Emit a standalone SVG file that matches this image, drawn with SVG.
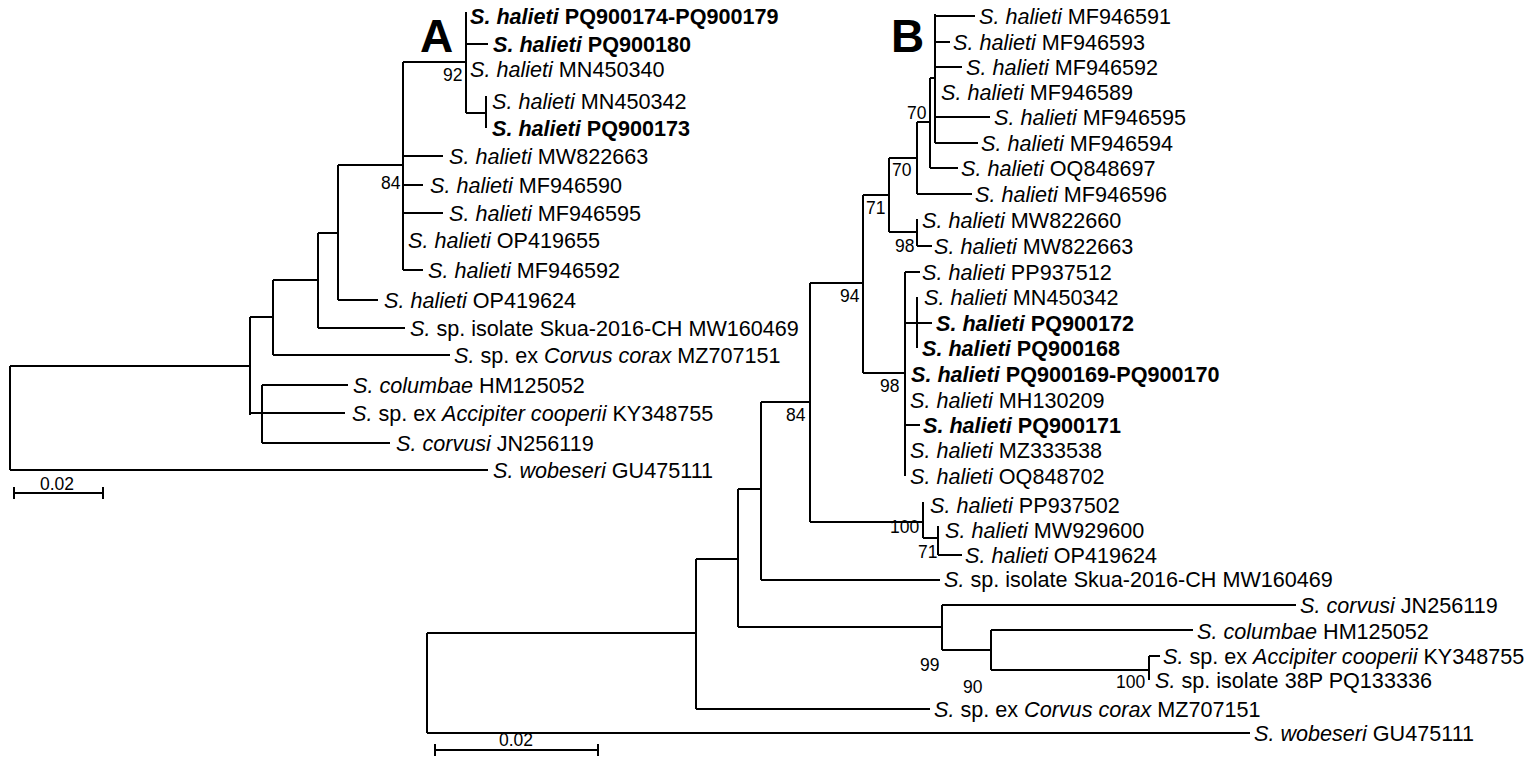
<svg xmlns="http://www.w3.org/2000/svg" width="1535" height="768" viewBox="0 0 1535 768">
<style>
.b{stroke:#000;stroke-width:2;fill:none}
text{font-family:"Liberation Sans",Arial,sans-serif;fill:#000}
.a{font-size:21.6px}
.t{font-size:21.6px}
.n{font-size:17.5px}
.i{font-style:italic}
.bd{font-weight:bold}
.big{font-size:46px;font-weight:bold}
</style>
<rect width="1535" height="768" fill="#fff"/>
<g id="connectors">
<path class="b" d="M466 12V113M466 44H488M466 113H486M486 96V128M403 62H466M403 62V270M403 156H443M403 185H423M403 213H443M403 270H423M338 165H403M338 165V300M338 300H378M318 233H338M318 233V328M318 328H405M273 280H318M273 280V355M273 355H450M250 317H273M250 317V415M262 385V443M262 385H348M250 413H345M262 443H390M10 366H250M10 366V470M10 470H488"/>
<path class="b" d="M14 493H103M14 487V499M103 487V499"/>
<path class="b" d="M935 14V143M935 16H975M935 42H950M935 67H962M935 117H990M935 143H978M930 78H935M930 78V168M930 168H958M917 122H930M917 122V194M917 194H972M889 158H917M889 158V232M889 232H917M917 219V246M917 246H932M863 195H889M863 195V373M863 373H905M905 272V476M905 272H920M917 297V348M905 323H932M905 425H920M810 283H863M810 283V522M810 522H923M923 502V538M923 538H938M938 526V555M938 555H962M761 402H810M761 402V580M761 580H940M738 489H761M738 489V627M738 627H942M942 605V650M942 605H1296M942 650H991M991 630V670M991 630H1193M991 670H1149M1149 656V680M1149 656H1160M696 559H738M696 559V709M696 709H930M427 633H696M427 633V733M427 733H1250"/>
<path class="b" d="M435 750H598M435 744V756M598 744V756"/>
</g>
<g id="treeA">
<text class="big" x="420" y="52">A</text>
<text class="a bd" x="470" y="24"><tspan class="i">S. halieti</tspan> PQ900174-PQ900179</text>
<text class="a bd" x="493" y="52"><tspan class="i">S. halieti</tspan> PQ900180</text>
<text class="a" x="470" y="77"><tspan class="i">S. halieti</tspan> MN450340</text>
<text class="a" x="492" y="109"><tspan class="i">S. halieti</tspan> MN450342</text>
<text class="a bd" x="492" y="136"><tspan class="i">S. halieti</tspan> PQ900173</text>
<text class="a" x="449" y="164"><tspan class="i">S. halieti</tspan> MW822663</text>
<text class="a" x="430" y="193"><tspan class="i">S. halieti</tspan> MF946590</text>
<text class="a" x="449" y="221"><tspan class="i">S. halieti</tspan> MF946595</text>
<text class="a" x="408" y="248"><tspan class="i">S. halieti</tspan> OP419655</text>
<text class="a" x="428" y="278"><tspan class="i">S. halieti</tspan> MF946592</text>
<text class="a" x="384" y="308"><tspan class="i">S. halieti</tspan> OP419624</text>
<text class="a" x="410" y="336"><tspan class="i">S.</tspan> sp. isolate Skua-2016-CH MW160469</text>
<text class="a" x="454" y="363"><tspan class="i">S.</tspan> sp. ex <tspan class="i">Corvus corax</tspan> MZ707151</text>
<text class="a" x="353" y="393"><tspan class="i">S. columbae</tspan> HM125052</text>
<text class="a" x="352" y="421"><tspan class="i">S.</tspan> sp. ex <tspan class="i">Accipiter cooperii</tspan> KY348755</text>
<text class="a" x="396" y="451"><tspan class="i">S. corvusi</tspan> JN256119</text>
<text class="a" x="493" y="478"><tspan class="i">S. wobeseri</tspan> GU475111</text>
<text class="n" x="443" y="81">92</text>
<text class="n" x="381" y="189">84</text>
<text class="n" x="40" y="490">0.02</text>
</g>
<g id="treeB">
<text class="big" x="891" y="52">B</text>
<text class="t" x="979" y="24"><tspan class="i">S. halieti</tspan> MF946591</text>
<text class="t" x="953" y="50"><tspan class="i">S. halieti</tspan> MF946593</text>
<text class="t" x="966" y="75"><tspan class="i">S. halieti</tspan> MF946592</text>
<text class="t" x="941" y="100"><tspan class="i">S. halieti</tspan> MF946589</text>
<text class="t" x="994" y="125"><tspan class="i">S. halieti</tspan> MF946595</text>
<text class="t" x="981" y="151"><tspan class="i">S. halieti</tspan> MF946594</text>
<text class="t" x="961" y="176"><tspan class="i">S. halieti</tspan> OQ848697</text>
<text class="t" x="975" y="202"><tspan class="i">S. halieti</tspan> MF946596</text>
<text class="t" x="922" y="228"><tspan class="i">S. halieti</tspan> MW822660</text>
<text class="t" x="934" y="254"><tspan class="i">S. halieti</tspan> MW822663</text>
<text class="t" x="922" y="280"><tspan class="i">S. halieti</tspan> PP937512</text>
<text class="t" x="924" y="305"><tspan class="i">S. halieti</tspan> MN450342</text>
<text class="t bd" x="936" y="331"><tspan class="i">S. halieti</tspan> PQ900172</text>
<text class="t bd" x="922" y="356"><tspan class="i">S. halieti</tspan> PQ900168</text>
<text class="t bd" x="911" y="382"><tspan class="i">S. halieti</tspan> PQ900169-PQ900170</text>
<text class="t" x="910" y="408"><tspan class="i">S. halieti</tspan> MH130209</text>
<text class="t bd" x="923" y="433"><tspan class="i">S. halieti</tspan> PQ900171</text>
<text class="t" x="910" y="458"><tspan class="i">S. halieti</tspan> MZ333538</text>
<text class="t" x="910" y="484"><tspan class="i">S. halieti</tspan> OQ848702</text>
<text class="t" x="930" y="513"><tspan class="i">S. halieti</tspan> PP937502</text>
<text class="t" x="945" y="538"><tspan class="i">S. halieti</tspan> MW929600</text>
<text class="t" x="965" y="563"><tspan class="i">S. halieti</tspan> OP419624</text>
<text class="t" x="944" y="587"><tspan class="i">S.</tspan> sp. isolate Skua-2016-CH MW160469</text>
<text class="t" x="1300" y="613"><tspan class="i">S. corvusi</tspan> JN256119</text>
<text class="t" x="1197" y="639"><tspan class="i">S. columbae</tspan> HM125052</text>
<text class="t" x="1163" y="664"><tspan class="i">S.</tspan> sp. ex <tspan class="i">Accipiter cooperii</tspan> KY348755</text>
<text class="t" x="1155" y="688"><tspan class="i">S.</tspan> sp. isolate 38P PQ133336</text>
<text class="t" x="934" y="717"><tspan class="i">S.</tspan> sp. ex <tspan class="i">Corvus corax</tspan> MZ707151</text>
<text class="t" x="1254" y="741"><tspan class="i">S. wobeseri</tspan> GU475111</text>
<text class="n" x="907" y="119">70</text>
<text class="n" x="892" y="176">70</text>
<text class="n" x="866" y="214">71</text>
<text class="n" x="895" y="252">98</text>
<text class="n" x="840" y="302">94</text>
<text class="n" x="880" y="392">98</text>
<text class="n" x="786" y="421">84</text>
<text class="n" x="890" y="533">100</text>
<text class="n" x="918" y="558">71</text>
<text class="n" x="920" y="671">99</text>
<text class="n" x="963" y="693">90</text>
<text class="n" x="1116" y="688">100</text>
<text class="n" x="499" y="746">0.02</text>
</g>
</svg>
